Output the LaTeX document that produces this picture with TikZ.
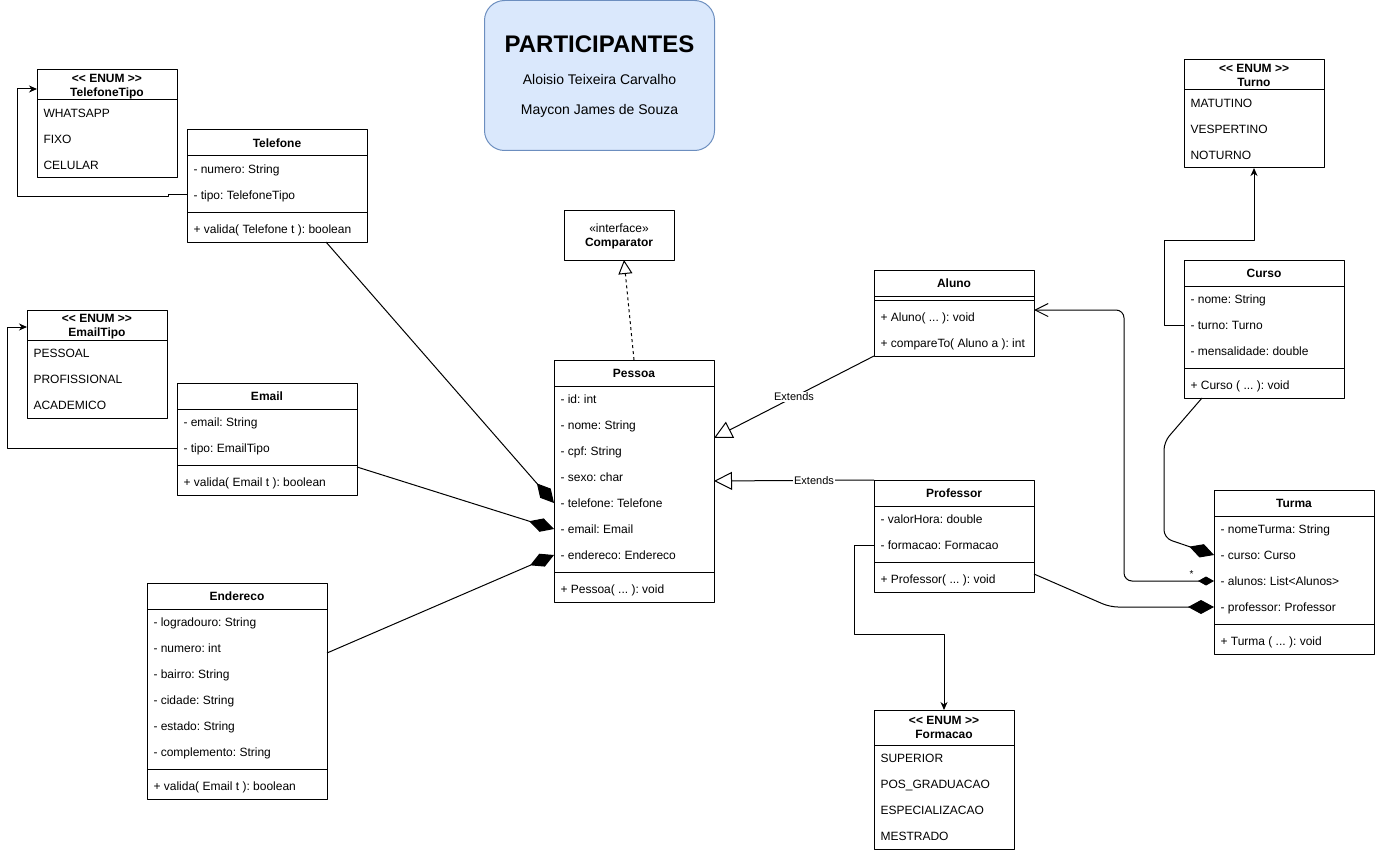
\documentclass[tikz,border=0pt]{standalone}
\usepackage{fontspec}
\setmainfont{Liberation Sans}
\usetikzlibrary{arrows.meta}
\definecolor{notefill}{HTML}{DAE8FC}
\definecolor{notedraw}{HTML}{6C8EBF}
\frenchspacing

\newcommand{\etc}{...}
\newcommand{\umlclass}[8]{%
	\node[classbox, anchor=north west, minimum width=#3, minimum height={34+26*(#4+#5)}] (#1) at (#2) {};
	\node[classname] (#1-h) at ([yshift=-13pt]#1.north) {#6};
	\draw ([yshift=-26pt]#1.north west) -- ([yshift=-26pt]#1.north east);
	\draw ([yshift={-30-26*#4}]#1.north west) -- ([yshift={-30-26*#4}]#1.north east);
	\ifnum#4>0
		\foreach \a [count=\i] in {#7}
			\node[member] (#1-a\i) at ([xshift=6pt, yshift={-13-26*\i}]#1.north west) {\a};
	\fi
	\foreach \m [count=\j] in {#8}
		\node[member] (#1-m\j) at ([xshift=6pt, yshift={-21-26*(#4+\j)}]#1.north west) {\m};
}
\newcommand{\umlenum}[7]{%
	\node[classbox, anchor=north west, minimum width=#3, minimum height={#4+26*#6}] (#1) at (#2) {};
	\node[classname] (#1-s) at ([yshift={-#4/2+7}]#1.north) {<\kern0pt< ENUM >\kern0pt>};
	\node[classname] (#1-h) at ([yshift={-#4/2-7}]#1.north) {#5};
	\draw ([yshift=-#4]#1.north west) -- ([yshift=-#4]#1.north east);
	\foreach \e [count=\i] in {#7}
		\node[member] (#1-i\i) at ([xshift=6pt, yshift={-#4-26*\i+13}]#1.north west) {\e};
}

\begin{document}
\begin{tikzpicture}[x=1pt, y=-1pt, line width=1pt, line join=round,
	font=\fontsize{12}{14}\selectfont,
	classbox/.style={draw, fill=white, inner sep=0pt, outer sep=0pt},
	classname/.style={inner sep=0pt, text height=8.6pt, text depth=0pt, font=\bfseries\fontsize{12}{14}\selectfont},
	member/.style={anchor=west, inner sep=0pt, text height=8.6pt, text depth=0pt},
	enumlink/.style={-{Stealth[length=8pt, width=7pt, inset=2.5pt]}},
	realize/.style={dash pattern=on 3pt off 3pt, -{Triangle[open, length=14pt, width=14pt]}},
	extends/.style={-{Triangle[open, length=18pt, width=18pt]}},
	compose/.style={-{Diamond[length=26pt, width=14pt]}},
	extlabel/.style={fill=white, inner sep=1.5pt, text height=7.9pt, text depth=0pt, font=\fontsize{11}{13}\selectfont}]
	\useasboundingbox (0,0) rectangle (1375,853);

	\node[draw=notedraw, fill=notefill, rounded corners=20pt, minimum width=230, minimum height=150, anchor=north west] (participantes) at (484,0) {};
	\node[inner sep=0pt, text height=17.2pt, text depth=0pt, font=\bfseries\fontsize{24}{28}\selectfont] (titulo) at ([yshift=-44pt]participantes.north) {PARTICIPANTES};
	\node[inner sep=0pt, text height=10pt, text depth=0pt, font=\fontsize{14}{17}\selectfont] (autor1) at ([yshift=-80pt]participantes.north) {Aloisio Teixeira Carvalho};
	\node[inner sep=0pt, text height=10pt, text depth=0pt, font=\fontsize{14}{17}\selectfont] (autor2) at ([yshift=-110pt]participantes.north) {Maycon James de Souza};

	\umlenum{telefonetipo}{37,70}{140}{30}{TelefoneTipo}{3}{WHATSAPP, FIXO, CELULAR}
	\umlenum{emailtipo}{27,310}{140}{30}{EmailTipo}{3}{PESSOAL, PROFISSIONAL, ACADEMICO}
	\umlenum{turno}{1184,60}{140}{30}{Turno}{3}{MATUTINO, VESPERTINO, NOTURNO}
	\umlenum{formacao}{874,710}{140}{35}{Formacao}{4}{SUPERIOR, POS\_GRADUACAO, ESPECIALIZACAO, MESTRADO}

	\umlclass{telefone}{187,130}{180}{2}{1}{Telefone}{- numero: String, - tipo: TelefoneTipo}{+ valida( Telefone t ): boolean}
	\umlclass{email}{177,383}{180}{2}{1}{Email}{- email: String, - tipo: EmailTipo}{+ valida( Email t ): boolean}
	\umlclass{endereco}{147,583}{180}{6}{1}{Endereco}{- logradouro: String, - numero: int, - bairro: String, - cidade: String, - estado: String, - complemento: String}{+ valida( Email t ): boolean}
	\umlclass{pessoa}{554,360}{160}{7}{1}{Pessoa}{- id: int, - nome: String, - cpf: String, - sexo: char, - telefone: Telefone, - email: Email, - endereco: Endereco}{+ Pessoa( \etc{} ): void}
	\umlclass{aluno}{874,270}{160}{0}{2}{Aluno}{}{+ Aluno( \etc{} ): void, + compareTo( Aluno a ): int}
	\umlclass{professor}{874,480}{160}{2}{1}{Professor}{- valorHora: double, - formacao: Formacao}{+ Professor( \etc{} ): void}
	\umlclass{curso}{1184,260}{160}{3}{1}{Curso}{- nome: String, - turno: Turno, - mensalidade: double}{+ Curso ( \etc{} ): void}
	\umlclass{turma}{1214,490}{160}{4}{1}{Turma}{- nomeTurma: String, - curso: Curso, - alunos: List<Alunos>, - professor: Professor}{+ Turma ( \etc{} ): void}

	\node[classbox, minimum width=110, minimum height=50] (comparator) at (619,235) {};
	\node[inner sep=0pt, text height=8.6pt, text depth=0pt] (stereo) at ([yshift=-18pt]comparator.north) {«interface»};
	\node[classname] (compname) at ([yshift=-32pt]comparator.north) {Comparator};

	\draw[enumlink] (telefone-a2 -| telefone.west) -- ++(-19,0) -- ++(0,2) -- ++(-151,0) |- ([yshift=-19pt]telefonetipo.north west);
	\draw[enumlink] (email-a2 -| email.west) -- ++(-170,0) |- ([yshift=-17pt]emailtipo.north west);
	\draw[enumlink] (curso-a2 -| curso.west) -- ++(-20,0) -- ++(0,-85) -| (turno.south);
	\draw[enumlink] (professor-a2 -| professor.west) -- ++(-20,0) -- ++(0,89) -| (formacao.north);

	\draw[realize] (pessoa.north) -- ([xshift=5pt]comparator.south);
	\draw[extends] (aluno.south west) -- node[extlabel] {Extends} ([yshift=-78pt]pessoa.north east);
	\draw[extends] (professor.north west) -- node[extlabel, pos=0.375] {Extends} (pessoa.east);

	\draw[compose] ([xshift=49pt]telefone.south) -- (pessoa-a5 -| pessoa.west);
	\draw[compose] ([yshift=-84pt]email.north east) -- (pessoa-a6 -| pessoa.west);
	\draw[compose] ([yshift=-70pt]endereco.north east) -- (pessoa-a7 -| pessoa.west);

	\draw[compose, rounded corners=8pt] ([xshift=18pt]curso.south west) -- ++(-38,44) -- ++(0,96) -- (turma-a2 -| turma.west);
	\draw[rounded corners=8pt, {Diamond[length=16pt, width=9pt]}-{Straight Barb[length=13pt, width=13pt]}] (turma-a3 -| turma.west) -- node[pos=0.25, anchor=base, yshift=4pt, inner sep=0pt, font=\fontsize{10}{12}\selectfont] {*} ++(-90,0) |- ([yshift=-40pt]aluno.north east);
	\draw[rounded corners=8pt, {Diamond[length=26pt, width=14pt]}-] (turma-a4 -| turma.west) -- ++(-104,0) -- ([yshift=-94pt]professor.north east);
\end{tikzpicture}
\end{document}
